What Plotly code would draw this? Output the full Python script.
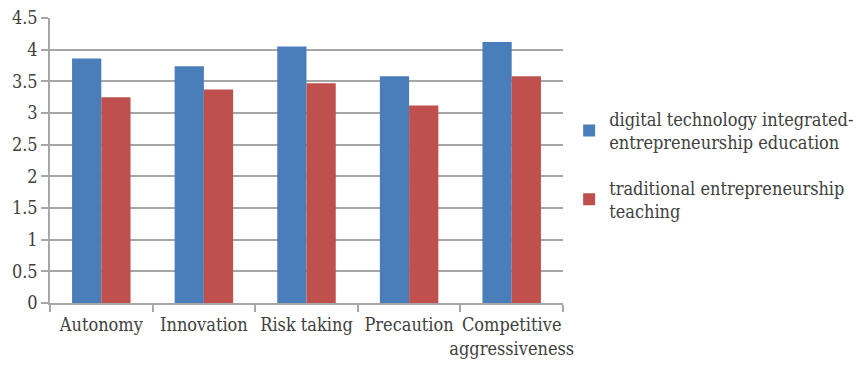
import plotly.graph_objects as go

categories = ["Autonomy", "Innovation", "Risk taking", "Precaution", "Competitive<br>aggressiveness"]
digital_values = [3.86, 3.74, 4.05, 3.58, 4.12]
traditional_values = [3.25, 3.37, 3.47, 3.12, 3.58]
series_names = ["digital technology integrated-<br>entrepreneurship education",
                "traditional entrepreneurship<br>teaching"]
y_ticks = [0, 0.5, 1, 1.5, 2, 2.5, 3, 3.5, 4, 4.5]
y_tick_labels = ["0", "0.5", "1", "1.5", "2", "2.5", "3", "3.5", "4", "4.5"]

FONT = "DejaVu Serif Condensed, DejaVu Serif"
TXT = "#404040"
GRID = "#a6a6a6"

fig = go.Figure()
fig.add_trace(go.Bar(x=categories, y=digital_values, name=series_names[0],
                     marker=dict(color="#4A7EBB", line=dict(width=0)), legendgroup="a"))
fig.add_trace(go.Bar(x=categories, y=traditional_values, name=series_names[1],
                     marker=dict(color="#C0504D", line=dict(width=0)), legendgroup="b"))

fig.update_layout(
    width=861, height=365,
    margin=dict(l=50, r=298, t=18, b=62, autoexpand=False),
    paper_bgcolor="white", plot_bgcolor="white",
    barmode="group", bargap=0.43, bargroupgap=0,
    font=dict(family=FONT, size=18, color=TXT),
    legend=dict(x=1.012, y=0.71, xanchor="left", yanchor="top",
                font=dict(family=FONT, size=18, color=TXT),
                tracegroupgap=19, bgcolor="rgba(0,0,0,0)"),
    showlegend=True,
)
fig.update_yaxes(range=[0, 4.5], tickvals=y_ticks, ticktext=y_tick_labels,
                 showgrid=True, gridcolor=GRID, gridwidth=1.5,
                 showline=True, linecolor=GRID, linewidth=1.5,
                 ticks="outside", ticklen=7, tickcolor=GRID, tickwidth=1.5,
                 zeroline=False, automargin=False,
                 tickfont=dict(family=FONT, size=18, color=TXT))
fig.update_xaxes(showline=True, linecolor=GRID, linewidth=1.5,
                 ticks="outside", tickson="boundaries", ticklen=7, tickcolor=GRID, tickwidth=1.5,
                 showgrid=False, tickangle=0, automargin=False, ticklabelstandoff=5,
                 tickfont=dict(family=FONT, size=18, color=TXT))

fig.write_html("out.html")
